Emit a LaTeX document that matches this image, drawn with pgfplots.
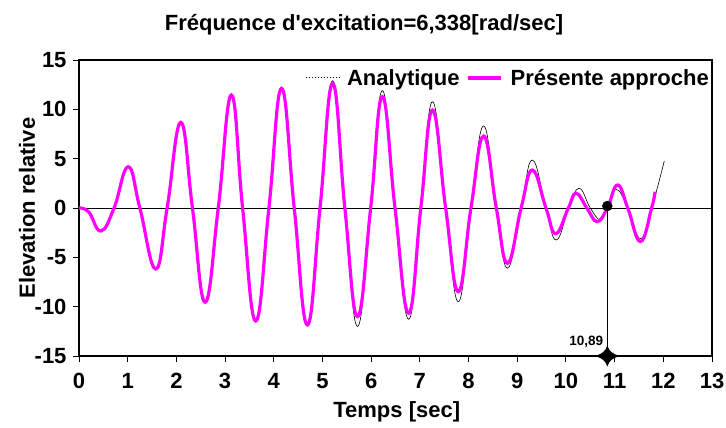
\documentclass[border=0pt]{standalone}
\usepackage{pgfplots}
\pgfplotsset{compat=1.18}
\usepackage{fontspec}
\setmainfont{Liberation Sans}

\definecolor{mag}{RGB}{255,0,255}

% four-pointed marker at the foot of the reading line
\pgfdeclareplotmark{sparkle}{%
  \pgfpathmoveto{\pgfqpoint{1.2\pgfplotmarksize}{0pt}}%
  \pgfpathquadraticcurveto{\pgfqpoint{0.22\pgfplotmarksize}{0.22\pgfplotmarksize}}{\pgfqpoint{0pt}{\pgfplotmarksize}}%
  \pgfpathquadraticcurveto{\pgfqpoint{-0.22\pgfplotmarksize}{0.22\pgfplotmarksize}}{\pgfqpoint{-1.2\pgfplotmarksize}{0pt}}%
  \pgfpathquadraticcurveto{\pgfqpoint{-0.22\pgfplotmarksize}{-0.22\pgfplotmarksize}}{\pgfqpoint{0pt}{-\pgfplotmarksize}}%
  \pgfpathquadraticcurveto{\pgfqpoint{0.22\pgfplotmarksize}{-0.22\pgfplotmarksize}}{\pgfqpoint{1.2\pgfplotmarksize}{0pt}}%
  \pgfpathclose
  \pgfusepathqfillstroke}

\newcommand{\bigf}{\fontsize{22bp}{26bp}\selectfont\bfseries}

\begin{document}
\begin{tikzpicture}
\begin{axis}[
    at={(0,0)}, anchor=south west,
    scale only axis, width=633bp, height=296bp,
    xmin=0, xmax=13, ymin=-15, ymax=15,
    xtick={0,...,13}, ytick={-15,-10,...,15},
    axis line style={line width=1.2bp},
    tick align=outside, tick pos=left,
    major tick length=6bp,
    every tick/.style={black, line width=1bp},
    /pgf/number format/assume math mode=true,
    tick label style={font=\bigf},
    xticklabel style={yshift=-8bp},
    yticklabel style={xshift=-3bp},
    xlabel={Temps [sec]}, ylabel={Elevation relative},
    label style={font=\bigf},
    xlabel style={at={(axis description cs:0.502,-0.19)}, anchor=center},
    ylabel style={at={(axis description cs:-0.0821,0.5)}, anchor=center},
    legend style={at={(rel axis cs:1,1)}, anchor=north east, xshift=2bp, yshift=-5bp,
        draw=none, fill=none, legend columns=-1, font=\bigf,
        /tikz/every even column/.append style={column sep=5bp}},
    legend image code/.code={\draw[#1] (0bp,0bp) -- (33bp,0bp); \path (39bp,0bp);},
    clip=false,
]
% zero line
\addplot[black, line width=0.6bp, forget plot] coordinates {(0,0) (13,0)};

% Analytique
\addplot[black, line width=0.6bp, smooth, tension=0.75, forget plot] coordinates {
 (0,0) (0.2,-0.4) (0.45,-2.33) (0.72,0) (1.01,4.18) (1.25,0) (1.575,-6.18) (1.81,0)
 (2.09,8.7) (2.33,0) (2.59,-9.6) (2.86,0) (3.13,11.5) (3.36,0) (3.63,-11.5) (3.9,0)
 (4.16,12.15) (4.42,0) (4.69,-11.9) (4.95,0) (5.21,12.9) (5.46,0) (5.72,-12.0) (5.99,0)
 (6.23,11.9) (6.49,0) (6.77,-11.28) (7.02,0) (7.26,10.77) (7.53,0) (7.79,-9.49) (8.05,0)
 (8.31,8.31) (8.57,0) (8.80,-6.1) (9.08,0) (9.31,4.86) (9.59,0) (9.80,-3.24) (10.06,0)
 (10.27,2.0) (10.50,0) (10.71,-1.2) (10.84,0) (11.03,1.9) (11.27,0) (11.53,-3.1)
 (11.76,0) (12.02,4.76)};
\addlegendimage{black, dotted, line width=1bp}
\addlegendentry{Analytique}

% Presente approche
\addplot[mag, line width=3.2bp, smooth, tension=0.75] coordinates {
 (0,0) (0.2,-0.4) (0.45,-2.33) (0.72,0) (1.01,4.18) (1.25,0) (1.575,-6.18) (1.81,0)
 (2.09,8.68) (2.33,0) (2.59,-9.55) (2.86,0) (3.13,11.45) (3.36,0) (3.63,-11.45) (3.9,0)
 (4.16,12.12) (4.42,0) (4.69,-11.85) (4.95,0) (5.21,12.63) (5.46,0) (5.72,-11.0) (5.99,0)
 (6.23,11.28) (6.49,0) (6.77,-10.67) (7.02,0) (7.26,9.93) (7.53,0) (7.79,-8.48) (8.05,0)
 (8.31,7.29) (8.57,0) (8.80,-5.6) (9.08,0) (9.31,3.85) (9.59,0) (9.79,-2.6) (10.05,0)
 (10.21,1.49) (10.43,0) (10.64,-1.38) (10.85,0) (11.06,2.33) (11.27,0) (11.53,-3.4)
 (11.76,0) (11.83,1.65)};
\addlegendentry{Présente approche}

% reading at t = 10,89
\addplot[black, line width=0.6bp, forget plot] coordinates {(10.85,0.2) (10.85,-15)};
\addplot[only marks, mark=*, mark size=5bp, black, forget plot] coordinates {(10.85,0.2)};
\addplot[only marks, mark=sparkle, mark size=10bp, black, line width=0.4bp, forget plot] coordinates {(10.85,-15)};
\node[anchor=south east, inner sep=0pt, font=\fontsize{13.5bp}{15bp}\selectfont\bfseries]
  at (axis cs:10.85,-15) [xshift=-4bp, yshift=8bp] {10,89};
\end{axis}
\node[font=\bigf] at (285bp,331bp) {Fréquence d\textquotesingle excitation=6,338[rad/sec]};
\pgfresetboundingbox
\path (-79bp,-72bp) rectangle (647bp,356bp);
\end{tikzpicture}
\end{document}
